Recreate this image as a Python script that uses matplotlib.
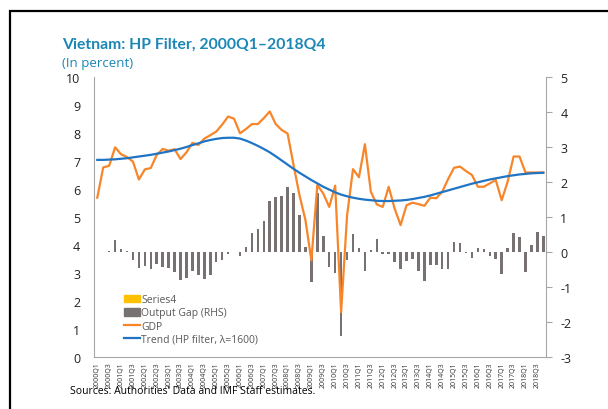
import numpy as np
import matplotlib
matplotlib.use("Agg")
import matplotlib.pyplot as plt
from matplotlib.patches import Patch, Rectangle
from matplotlib.lines import Line2D

plt.rcParams['font.family'] = ['Open Sans', 'DejaVu Sans']
plt.rcParams['axes.unicode_minus'] = False

# quarters 2000Q1 .. 2018Q4
quarters = [f"{y}Q{q}" for y in range(2000, 2019) for q in range(1, 5)]
tick_labels = quarters[::2]

gdp = [5.69, 6.77, 6.83, 7.49, 7.24, 7.14, 6.98, 6.34, 6.70, 6.75,
       7.22, 7.43, 7.37, 7.42, 7.07, 7.31, 7.65, 7.57, 7.80, 7.92,
       8.05, 8.30, 8.59, 8.51, 7.99, 8.14, 8.32, 8.32, 8.53, 8.77,
       8.32, 8.11, 7.98, 6.86, 5.78, 4.89, 3.45, 6.14, 5.84, 5.36,
       6.12, 1.60, 5.05, 6.71, 6.42, 7.60, 5.90, 5.45, 5.36, 6.08,
       5.30, 4.71, 5.42, 5.51, 5.46, 5.40, 5.69, 5.67, 5.90, 6.36,
       6.76, 6.80, 6.64, 6.50, 6.08, 6.08, 6.20, 6.32, 5.60, 6.26,
       7.16, 7.16, 6.59, 6.59, 6.59, 6.59]

trend = [7.04, 7.04, 7.05, 7.06, 7.08, 7.10, 7.13, 7.16, 7.19, 7.22,
         7.26, 7.30, 7.34, 7.39, 7.44, 7.50, 7.57, 7.63, 7.70, 7.75,
         7.79, 7.82, 7.83, 7.83, 7.80, 7.73, 7.64, 7.54, 7.43, 7.31,
         7.17, 7.02, 6.87, 6.72, 6.58, 6.45, 6.32, 6.20, 6.08, 5.98,
         5.88, 5.80, 5.74, 5.69, 5.65, 5.62, 5.60, 5.58, 5.57, 5.57,
         5.58, 5.59, 5.61, 5.64, 5.68, 5.72, 5.77, 5.83, 5.89, 5.95,
         6.01, 6.07, 6.13, 6.19, 6.24, 6.29, 6.34, 6.38, 6.42, 6.46,
         6.49, 6.52, 6.54, 6.56, 6.57, 6.58]

output_gap = [0.01, 0.01, 0.02, 0.35, 0.10, 0.02, -0.24, -0.45, -0.40, -0.48,
              -0.34, -0.43, -0.45, -0.56, -0.80, -0.75, -0.53, -0.65, -0.78, -0.65,
              -0.29, -0.24, -0.06, 0.01, -0.10, 0.13, 0.53, 0.67, 0.88, 1.46,
              1.58, 1.61, 1.87, 1.68, 1.06, 0.14, -0.85, 1.68, 0.47, -0.43,
              -0.60, -2.40, -0.24, 0.51, 0.12, -0.53, 0.05, 0.38, -0.07, -0.05,
              -0.29, -0.48, -0.27, -0.21, -0.53, -0.82, -0.38, -0.38, -0.48, -0.48,
              0.29, 0.27, -0.03, -0.17, 0.12, 0.08, -0.12, -0.21, -0.63, 0.12,
              0.53, 0.43, -0.56, 0.19, 0.58, 0.46]

title_blue = '#1b87b6'
orange = '#f7862a'
blue = '#1f74c4'
bar_grey = '#777171'
axis_grey = '#a6a6a6'

W, H = 608, 410
fig = plt.figure(figsize=(W / 100, H / 100), dpi=100)

# outer frame
fig.patches.append(Rectangle((10 / W, -0.05), 1.2, (H - 12) / H + 0.05,
                             transform=fig.transFigure, fill=False,
                             edgecolor='black', linewidth=1.6))

fig.text(62 / W, 1 - 45 / H, 'Vietnam: HP Filter, 2000Q1\u20132018Q4',
         color=title_blue, fontsize=11.3, fontweight='bold', va='center',
         family=['Lato', 'DejaVu Sans'])
fig.text(62 / W, 1 - 63 / H, '(In percent)', color=title_blue,
         fontsize=9.5, va='center')
fig.text(70 / W, 1 - 392 / H,
         "Sources: Authorities' Data and IMF Staff estimates.",
         color='black', fontsize=7.5, va='center')

left, right, top, bottom = 94.3, 546.3, 78, 358
rect = [left / W, 1 - bottom / H, (right - left) / W, (bottom - top) / H]

x = np.arange(len(quarters))

# bars on right-hand axis
axb = fig.add_axes(rect)
axl = axb.twinx()

axb.bar(x, output_gap, width=0.42, color=bar_grey, zorder=2)
axb.set_ylim(-3, 5)
axb.set_xlim(-0.5, len(quarters) - 0.5)
axb.yaxis.tick_right()
axb.set_yticks(range(-3, 6))
axb.tick_params(axis='y', length=4, color=axis_grey, labelsize=9,
                pad=6, labelcolor='#222222')
for s in ['top', 'left', 'right']:
    axb.spines[s].set_visible(False)
axb.spines['bottom'].set_color(axis_grey)
axb.set_xticks(x[::2])
axb.set_xticklabels(tick_labels, rotation=90, fontsize=5, color='#333333')
axb.tick_params(axis='x', length=0, pad=3)

# lines on left-hand axis
axl.yaxis.tick_left()
axl.plot(x, gdp, color=orange, linewidth=1.6, zorder=3)
axl.plot(x, trend, color=blue, linewidth=1.6, zorder=4)
axl.set_ylim(0, 10)
axl.set_yticks(range(0, 11))
axl.tick_params(axis='y', length=0, labelsize=9, pad=10, labelcolor='#222222')
for s in ['top', 'bottom']:
    axl.spines[s].set_visible(False)
axl.spines['left'].set_color(axis_grey)
axl.spines['right'].set_color(axis_grey)

handles = [Patch(color='#ffc000'), Patch(color=bar_grey),
           Line2D([], [], color=orange, linewidth=1.6),
           Line2D([], [], color=blue, linewidth=1.6)]
labels = ['Series4', 'Output Gap (RHS)', 'GDP', 'Trend (HP filter, \u03bb=1600)']
leg = axl.legend(handles, labels, loc='lower left',
                 bbox_to_anchor=((124 - left) / (right - left), (bottom - 346) / (bottom - top)),
                 frameon=False, fontsize=7.5, handlelength=1.5, handleheight=0.8,
                 handletextpad=0.15, labelspacing=0.22, borderpad=0, borderaxespad=0)
for t in leg.get_texts():
    t.set_color('#595959')

fig.savefig('out.png', dpi=100)
